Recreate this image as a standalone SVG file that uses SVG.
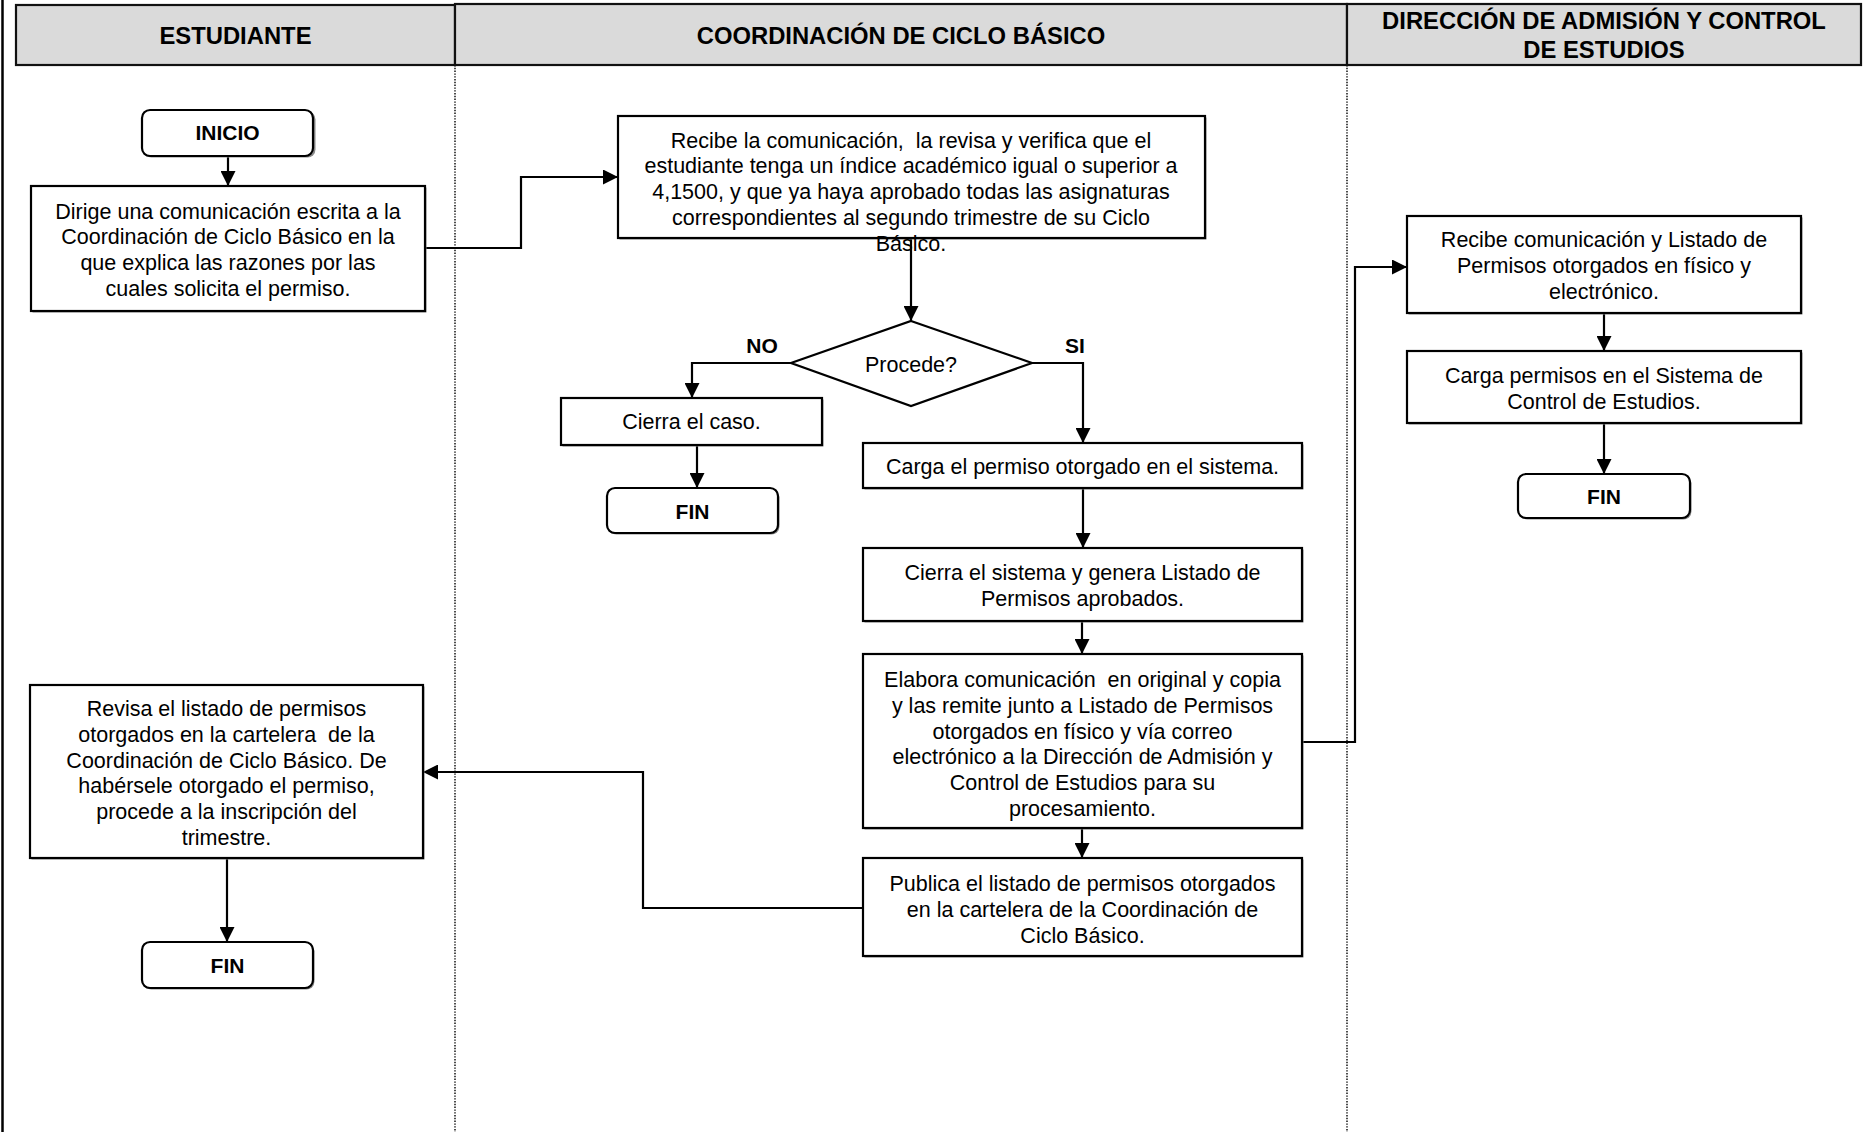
<svg xmlns="http://www.w3.org/2000/svg" width="1873" height="1132" viewBox="0 0 1873 1132" xml:space="preserve">
  <defs>
    <marker id="arrow" markerUnits="userSpaceOnUse" markerWidth="15" markerHeight="15" refX="15" refY="7.5" orient="auto">
      <path d="M0,0 L15,7.5 L0,15 z" fill="#000"/>
    </marker>
  </defs>
  <style>
    text { white-space: pre; }
    .lane-head { fill: #dadada; stroke: #111; stroke-width: 2.2; }
    .lane-title { font-family: "Liberation Sans", Arial, sans-serif; font-weight: bold; font-size: 23.8px; fill: #000; text-anchor: middle; }
    .lane-sep { stroke: #000; stroke-width: 1.4; stroke-dasharray: 1.4 1.4; fill: none; }
    .frame { stroke: #000; stroke-width: 2.5; fill: none; }
    .box { fill: #fff; stroke: #000; stroke-width: 2.2; }
    .shadow { fill: #8a8a8a; }
    .term { fill: #fff; stroke: #000; stroke-width: 2.2; }
    .txt { font-family: "Liberation Sans", Arial, sans-serif; font-size: 21.5px; fill: #000; text-anchor: middle; }
    .bold { font-family: "Liberation Sans", Arial, sans-serif; font-size: 21px; font-weight: bold; fill: #000; text-anchor: middle; }
    .conn { stroke: #000; stroke-width: 2.2; fill: none; marker-end: url(#arrow); }
  </style>

  <rect width="1873" height="1132" fill="#fff"/>

  <!-- swimlane frame and headers -->
  <g id="lanes">
    <line class="frame" x1="2.5" y1="0" x2="2.5" y2="1132"/>
    <line class="lane-sep" x1="455" y1="65" x2="455" y2="1132"/>
    <line class="lane-sep" x1="1347" y1="65" x2="1347" y2="1132"/>
    <rect class="lane-head" x="16" y="5" width="439" height="60"/>
    <rect class="lane-head" x="455" y="4" width="892" height="61"/>
    <rect class="lane-head" x="1347" y="4" width="514" height="61"/>
    <text class="lane-title" x="235.5" y="44">ESTUDIANTE</text>
    <text class="lane-title" x="901" y="44">COORDINACIÓN DE CICLO BÁSICO</text>
    <text class="lane-title" x="1604" y="29">DIRECCIÓN DE ADMISIÓN Y CONTROL</text>
    <text class="lane-title" x="1604" y="58">DE ESTUDIOS</text>
  </g>

  <!-- connectors -->
  <g id="connectors">
    <path class="conn" d="M228,156 V186"/>
    <path class="conn" d="M425,248 H521 V177 H618"/>
    <path class="conn" d="M911,238 V321"/>
    <path class="conn" d="M791,363 H692 V398"/>
    <path class="conn" d="M1032,363 H1083 V443"/>
    <path class="conn" d="M697,445 V488"/>
    <path class="conn" d="M1083,488 V548"/>
    <path class="conn" d="M1082,621 V654"/>
    <path class="conn" d="M1082,829 V858"/>
    <path class="conn" d="M1303,742 H1355 V267 H1407"/>
    <path class="conn" d="M863,908 H643 V772 H423"/>
    <path class="conn" d="M227,859 V942"/>
    <path class="conn" d="M1604,314 V351"/>
    <path class="conn" d="M1604,424 V474"/>
  </g>

  <!-- Estudiante lane -->
  <g id="inicio">
    <rect class="shadow" x="143.5" y="111.5" width="172" height="46" rx="8"/>
    <rect class="term" x="142" y="110" width="171" height="46" rx="8"/>
    <text class="bold" x="227.5" y="140">INICIO</text>
  </g>
  <g id="dirige">
    <rect class="shadow" x="32.5" y="187.5" width="394" height="125"/>
    <rect class="box" x="31" y="186" width="394" height="125"/>
    <text class="txt" x="228" y="218.5">Dirige una comunicación escrita a la</text>
    <text class="txt" x="228" y="244.3">Coordinación de Ciclo Básico en la</text>
    <text class="txt" x="228" y="270.1">que explica las razones por las</text>
    <text class="txt" x="228" y="295.9">cuales solicita el permiso.</text>
  </g>
  <g id="revisa">
    <rect class="shadow" x="31.5" y="686.5" width="393" height="173"/>
    <rect class="box" x="30" y="685" width="393" height="173"/>
    <text class="txt" x="226.5" y="716">Revisa el listado de permisos</text>
    <text class="txt" x="226.5" y="741.8">otorgados en la cartelera  de la</text>
    <text class="txt" x="226.5" y="767.6">Coordinación de Ciclo Básico. De</text>
    <text class="txt" x="226.5" y="793.4">habérsele otorgado el permiso,</text>
    <text class="txt" x="226.5" y="819.2">procede a la inscripción del</text>
    <text class="txt" x="226.5" y="845">trimestre.</text>
  </g>
  <g id="fin-estudiante">
    <rect class="shadow" x="143.5" y="943.5" width="171" height="46" rx="8"/>
    <rect class="term" x="142" y="942" width="171" height="46" rx="8"/>
    <text class="bold" x="227.5" y="973">FIN</text>
  </g>

  <!-- Coordinación de Ciclo Básico lane -->
  <g id="recibe-comunicacion">
    <rect class="shadow" x="619.5" y="117.5" width="587" height="122"/>
    <rect class="box" x="618" y="116" width="587" height="122"/>
    <text class="txt" x="911" y="147.5">Recibe la comunicación,  la revisa y verifica que el</text>
    <text class="txt" x="911" y="173.3">estudiante tenga un índice académico igual o superior a</text>
    <text class="txt" x="911" y="199.1">4,1500, y que ya haya aprobado todas las asignaturas</text>
    <text class="txt" x="911" y="224.9">correspondientes al segundo trimestre de su Ciclo</text>
    <text class="txt" x="911" y="250.7">Básico.</text>
  </g>
  <g id="procede">
    <path class="box" d="M911,321 L1032,363 L911,406 L791,363 z"/>
    <text class="txt" x="911" y="371.5">Procede?</text>
    <text class="bold" x="762" y="353">NO</text>
    <text class="bold" x="1075" y="353">SI</text>
  </g>
  <g id="cierra-caso">
    <rect class="shadow" x="562.5" y="399.5" width="261" height="47"/>
    <rect class="box" x="561" y="398" width="261" height="47"/>
    <text class="txt" x="691.5" y="429">Cierra el caso.</text>
  </g>
  <g id="fin-coordinacion">
    <rect class="shadow" x="608.5" y="489.5" width="171" height="45" rx="8"/>
    <rect class="term" x="607" y="488" width="171" height="45" rx="8"/>
    <text class="bold" x="692.5" y="518.5">FIN</text>
  </g>
  <g id="carga-permiso">
    <rect class="shadow" x="864.5" y="444.5" width="439" height="45"/>
    <rect class="box" x="863" y="443" width="439" height="45"/>
    <text class="txt" x="1082.5" y="473.5">Carga el permiso otorgado en el sistema.</text>
  </g>
  <g id="cierra-sistema">
    <rect class="shadow" x="864.5" y="549.5" width="439" height="73"/>
    <rect class="box" x="863" y="548" width="439" height="73"/>
    <text class="txt" x="1082.5" y="580">Cierra el sistema y genera Listado de</text>
    <text class="txt" x="1082.5" y="605.8">Permisos aprobados.</text>
  </g>
  <g id="elabora">
    <rect class="shadow" x="864.5" y="655.5" width="439" height="174"/>
    <rect class="box" x="863" y="654" width="439" height="174"/>
    <text class="txt" x="1082.5" y="687">Elabora comunicación  en original y copia</text>
    <text class="txt" x="1082.5" y="712.8">y las remite junto a Listado de Permisos</text>
    <text class="txt" x="1082.5" y="738.6">otorgados en físico y vía correo</text>
    <text class="txt" x="1082.5" y="764.4">electrónico a la Dirección de Admisión y</text>
    <text class="txt" x="1082.5" y="790.2">Control de Estudios para su</text>
    <text class="txt" x="1082.5" y="816">procesamiento.</text>
  </g>
  <g id="publica">
    <rect class="shadow" x="864.5" y="859.5" width="439" height="98"/>
    <rect class="box" x="863" y="858" width="439" height="98"/>
    <text class="txt" x="1082.5" y="891">Publica el listado de permisos otorgados</text>
    <text class="txt" x="1082.5" y="916.8">en la cartelera de la Coordinación de</text>
    <text class="txt" x="1082.5" y="942.6">Ciclo Básico.</text>
  </g>

  <!-- Dirección de Admisión y Control de Estudios lane -->
  <g id="recibe-listado">
    <rect class="shadow" x="1408.5" y="217.5" width="394" height="97"/>
    <rect class="box" x="1407" y="216" width="394" height="97"/>
    <text class="txt" x="1604" y="247">Recibe comunicación y Listado de</text>
    <text class="txt" x="1604" y="272.8">Permisos otorgados en físico y</text>
    <text class="txt" x="1604" y="298.6">electrónico.</text>
  </g>
  <g id="carga-sistema">
    <rect class="shadow" x="1408.5" y="352.5" width="394" height="72"/>
    <rect class="box" x="1407" y="351" width="394" height="72"/>
    <text class="txt" x="1604" y="383">Carga permisos en el Sistema de</text>
    <text class="txt" x="1604" y="408.8">Control de Estudios.</text>
  </g>
  <g id="fin-direccion">
    <rect class="shadow" x="1519.5" y="475.5" width="172" height="44" rx="8"/>
    <rect class="term" x="1518" y="474" width="172" height="44" rx="8"/>
    <text class="bold" x="1604" y="503.5">FIN</text>
  </g>
</svg>
